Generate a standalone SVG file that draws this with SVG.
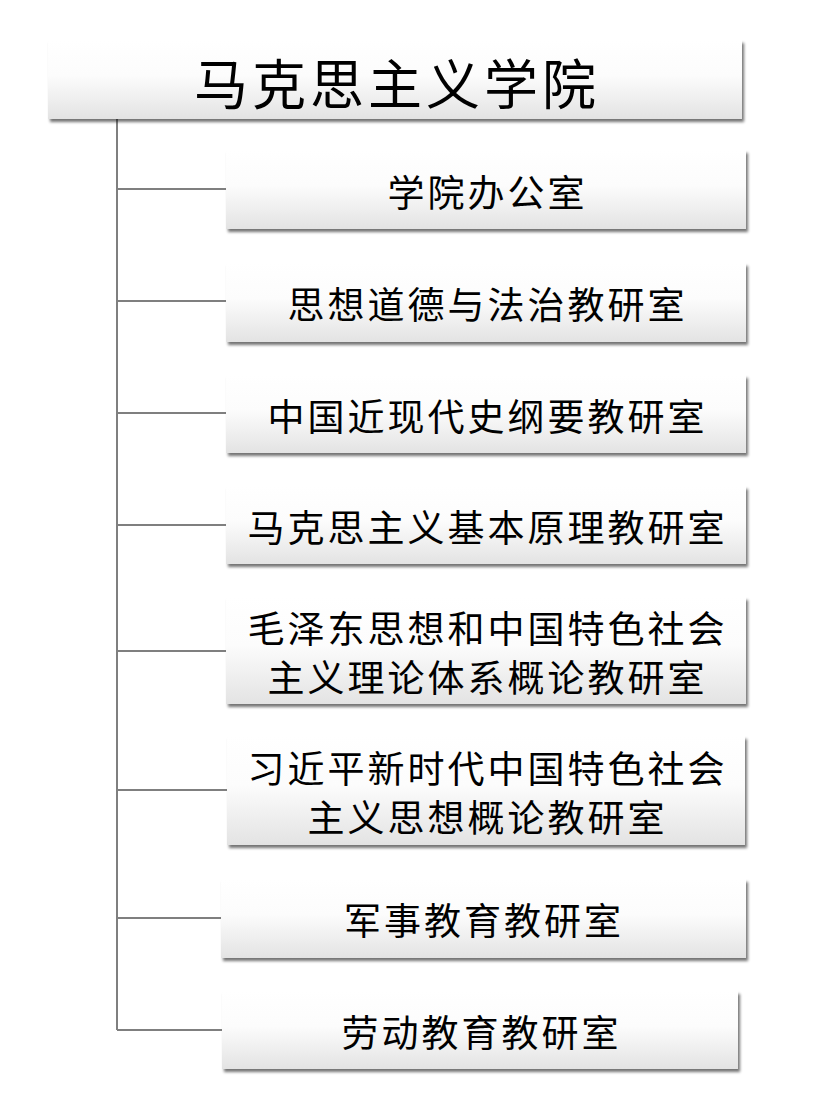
<svg xmlns="http://www.w3.org/2000/svg" width="831" height="1105" viewBox="0 0 831 1105">
  <defs>
    <linearGradient id="g" x1="0" y1="0" x2="0" y2="1">
      <stop offset="0" stop-color="#ffffff"/>
      <stop offset="0.45" stop-color="#fcfcfc"/>
      <stop offset="1" stop-color="#e3e3e3"/>
    </linearGradient>
    <filter id="sh" x="-5%" y="-10%" width="112%" height="130%">
      <feGaussianBlur in="SourceAlpha" stdDeviation="1.6"/>
      <feOffset dx="2" dy="3" result="b"/>
      <feComponentTransfer><feFuncA type="linear" slope="0.55"/></feComponentTransfer>
      <feMerge><feMergeNode/><feMergeNode in="SourceGraphic"/></feMerge>
    </filter>
  </defs>
  <style>
    .box { fill: url(#g); filter: url(#sh); }
    .t { font-family: "Noto Sans CJK SC", "Noto Sans CJK JP", sans-serif; fill: #000; text-anchor: middle; dominant-baseline: central; }
    .title { font-size: 54px; letter-spacing: 4px; }
    .lbl { font-size: 37px; letter-spacing: 3px; }
    .conn { stroke: #7f7f7f; stroke-width: 2; fill: none; }
  </style>
  <rect width="831" height="1105" fill="#ffffff"/>
  <g id="connectors">
    <path class="conn" d="M117,119 V1030"/>
    <path class="conn" d="M117,189 H226"/>
    <path class="conn" d="M117,301 H226"/>
    <path class="conn" d="M117,413 H226"/>
    <path class="conn" d="M117,525 H226"/>
    <path class="conn" d="M117,651 H226"/>
    <path class="conn" d="M117,790 H227"/>
    <path class="conn" d="M117,918 H221"/>
    <path class="conn" d="M117,1030 H222"/>
  </g>
  <g id="root">
    <rect class="box" x="48" y="40" width="694" height="79"/>
    <text class="t title" x="397" y="81">马克思主义学院</text>
  </g>
  <g id="n1">
    <rect class="box" x="226" y="150" width="520" height="79"/>
    <text class="t lbl" x="487.5" y="191">学院办公室</text>
  </g>
  <g id="n2">
    <rect class="box" x="226" y="263" width="520" height="79"/>
    <text class="t lbl" x="487.5" y="303">思想道德与法治教研室</text>
  </g>
  <g id="n3">
    <rect class="box" x="226" y="375" width="520" height="78"/>
    <text class="t lbl" x="487.5" y="415">中国近现代史纲要教研室</text>
  </g>
  <g id="n4">
    <rect class="box" x="226" y="486" width="520" height="78"/>
    <text class="t lbl" x="487.5" y="526">马克思主义基本原理教研室</text>
  </g>
  <g id="n5">
    <rect class="box" x="226" y="597" width="520" height="107"/>
    <text class="t lbl" x="487.5" y="627">毛泽东思想和中国特色社会</text>
    <text class="t lbl" x="487.5" y="676">主义理论体系概论教研室</text>
  </g>
  <g id="n6">
    <rect class="box" x="227" y="736" width="518" height="109"/>
    <text class="t lbl" x="487.5" y="767">习近平新时代中国特色社会</text>
    <text class="t lbl" x="487.5" y="816">主义思想概论教研室</text>
  </g>
  <g id="n7">
    <rect class="box" x="221" y="879" width="525" height="79"/>
    <text class="t lbl" x="484" y="919">军事教育教研室</text>
  </g>
  <g id="n8">
    <rect class="box" x="222" y="991" width="516" height="78"/>
    <text class="t lbl" x="481.5" y="1031">劳动教育教研室</text>
  </g>
</svg>
